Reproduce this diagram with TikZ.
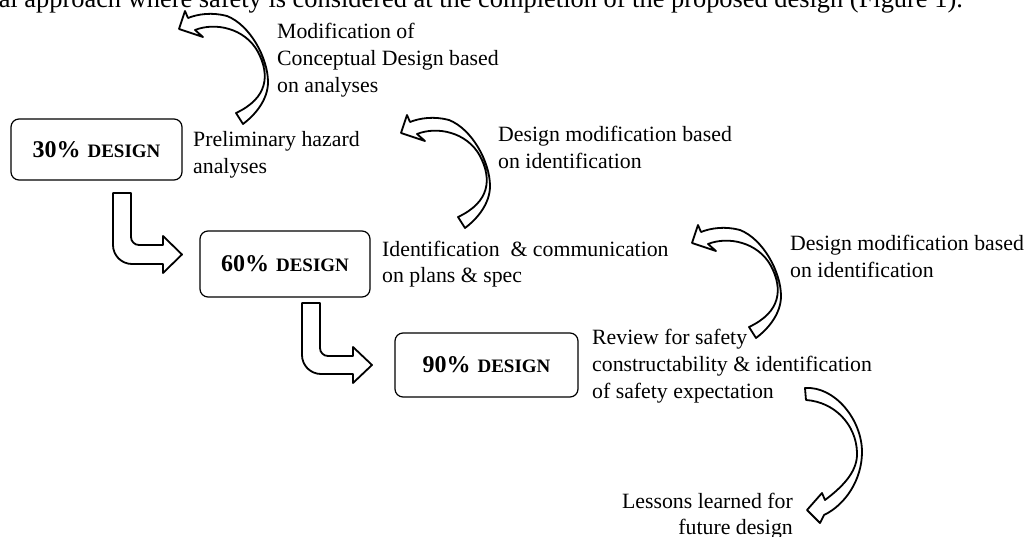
\documentclass[tikz,border=0pt]{standalone}
\usepackage{fontspec}
\setmainfont{Liberation Serif}
\newcommand\boxlabel[1]{{\fontsize{24}{28}\selectfont\bfseries #1\%}\hspace{7pt}{\fontsize{19}{22}\selectfont\bfseries DESIGN}}
\newcommand\txtlines[1]{\begin{tabular}[t]{@{}l@{}}#1\end{tabular}}
\newcommand\txtlinesr[1]{\begin{tabular}[t]{@{}r@{}}#1\end{tabular}}
\begin{document}
\begin{tikzpicture}[x=1pt,y=-1pt]
\tikzset{
  blockarrow/.style={draw=black, fill=white, line width=1.8pt, line join=round},
  designbox/.style={draw=black, rounded corners=8pt, line width=1.2pt, inner sep=0pt},
  txt/.style={inner sep=0pt, font=\fontsize{21.8}{26.6}\selectfont},
  headtxt/.style={inner sep=0pt, font=\fontsize{26.4}{30}\selectfont},
}
\useasboundingbox (0,0) rectangle (1029,537);
\clip (0,0) rectangle (1029,537);

% header line (cut off at top)
\node[headtxt, anchor=base east] (head) at (963,7.5) {al approach where safety is considered at the completion of the proposed design (Figure 1).};

% design boxes
\node[designbox, minimum width=171pt, minimum height=61pt] (d30) at (96.5,149.5) {\boxlabel{30}};
\node[designbox, minimum width=170pt, minimum height=66pt] (d60) at (285,264) {\boxlabel{60}};
\node[designbox, minimum width=183pt, minimum height=64pt] (d90) at (486.5,365) {\boxlabel{90}};

% texts
\node[txt, anchor=base west] (t1) at (277,39) {\txtlines{Modification of\\ Conceptual Design based\\ on analyses}};
\node[txt, anchor=base west] (t2) at (193,146.5) {\txtlines{Preliminary hazard\\ analyses}};
\node[txt, anchor=base west] (t3) at (498,141.7) {\txtlines{Design modification based\\ on identification}};
\node[txt, anchor=base west] (t4) at (382,256.4) {\txtlines{Identification\ \ \& communication\\ on plans \& spec}};
\node[txt, anchor=base west] (t5) at (790,251) {\txtlines{Design modification based\\ on identification}};
\node[txt, anchor=base west] (t6) at (592,345) {\txtlines{Review for safety\\ constructability \& identification\\ of safety expectation}};
\node[txt, anchor=base east] (t7) at (793,508.3) {\txtlinesr{Lessons learned for\\ future design}};

% L-shaped block arrows
\draw[blockarrow] (113,193) -- (131,193) -- (131,237)
  .. controls (131,241.4) and (134.6,245) .. (139,245) -- (163,245) -- (163,236)
  -- (182,254.5) -- (163,273) -- (163,264) -- (132,264)
  .. controls (121.5,264) and (113,255.5) .. (113,245) -- cycle;
\draw[blockarrow] (302,303) -- (320,303) -- (320,348)
  .. controls (320,352.4) and (323.6,356) .. (328,356) -- (353,356) -- (353,347)
  -- (372,365) -- (353,383) -- (353,374) -- (321,374)
  .. controls (310.5,374) and (302,365.5) .. (302,355) -- cycle;

% curved block arrows (tail below, head to the upper left)
\foreach \dx/\dy in {0/0, 222/104, 513/214}{
  \begin{scope}[shift={(\dx,\dy)}]
  \draw[blockarrow] (243,124) .. controls (255,115) and (268,100) .. (268,82)
    .. controls (268,58) and (250,25) .. (227,16)
    .. controls (212,12) and (198,14) .. (188,18)
    -- (185,11) -- (179,29) -- (203,37) -- (195,30)
    .. controls (215,22) and (245,28) .. (258,52)
    .. controls (270,75) and (268,98) .. (236,113) -- cycle;
  \end{scope}
}

% curved block arrow (tail above, head to the lower left)
\draw[blockarrow] (805,388) .. controls (835,386) and (862,420) .. (862,452)
  .. controls (862,480) and (845,505) .. (824,515)
  -- (820,523) -- (807,510) -- (822,493) -- (825,500)
  .. controls (845,485) and (858,470) .. (857,452)
  .. controls (856,425) and (835,402) .. (806,400) -- cycle;
\end{tikzpicture}
\end{document}
